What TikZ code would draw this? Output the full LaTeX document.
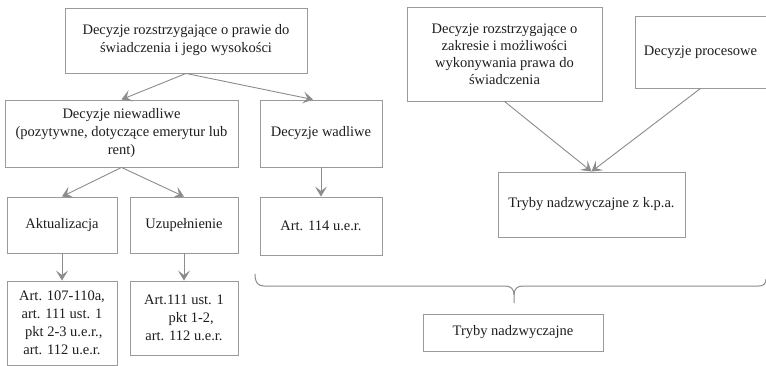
\documentclass[tikz,border=0pt]{standalone}
\usepackage{fontspec}
\setmainfont{Liberation Serif}
\usetikzlibrary{arrows.meta,calc}
\definecolor{boxline}{HTML}{9A9A9A}
\definecolor{arrline}{HTML}{8C8C8C}
\definecolor{txt}{HTML}{1E1E1E}
\tikzset{
  box/.style={draw=boxline,line width=0.9pt,fill=white,text=txt,align=center,
    font=\fontsize{14.5pt}{18pt}\selectfont,inner sep=1pt},
  arr/.style={draw=arrline,line width=0.9pt,
    -{Stealth[length=10pt,width=12pt,inset=4.5pt]}},
  bracel/.style={draw=arrline,line width=1pt}
}
\begin{document}
\begin{tikzpicture}[x=1pt,y=-1pt]
\useasboundingbox[fill=white] (0,0) rectangle (766,366);
\node[box,minimum width=242pt,minimum height=65pt] (top) at (186,40.5)
  {Decyzje rozstrzygające o prawie do\\świadczenia i jego wysokości};
\node[box,minimum width=233pt,minimum height=67pt] (niew) at (121.5,133.5)
  {Decyzje niewadliwe\\(pozytywne, dotyczące emerytur lub\\rent)};
\node[box,minimum width=122pt,minimum height=67pt] (wadl) at (321,133.5)
  {Decyzje wadliwe};
\node[box,minimum width=110pt,minimum height=56pt] (akt) at (62,225)
  {Aktualizacja};
\node[box,minimum width=108pt,minimum height=56pt] (uzu) at (184,225)
  {Uzupełnienie};
\node[box,minimum width=122pt,minimum height=58pt] (a114) at (321,226)
  {Art. 114 u.e.r.};
\node[box,minimum width=110pt,minimum height=84pt] (art1) at (62,323)
  {Art. 107-110a,\\art. 111 ust. 1\\\ pkt 2-3 u.e.r.,\\art. 112 u.e.r.};
\node[box,minimum width=108pt,minimum height=74pt] (art2) at (184,318)
  {Art.111 ust. 1\\\quad pkt 1-2,\\art. 112 u.e.r.};
\node[box,minimum width=195pt,minimum height=94pt,
  font=\fontsize{14.5pt}{17pt}\selectfont] (r1) at (504.5,54)
  {Decyzje rozstrzygające o\\zakresie i możliwości\\wykonywania prawa do\\świadczenia};
\node[box,minimum width=131pt,minimum height=72pt] (proc) at (700.5,52)
  {Decyzje procesowe};
\node[box,minimum width=187pt,minimum height=65pt] (kpa) at (591.5,204.5)
  {Tryby nadzwyczajne z k.p.a.};
\node[box,minimum width=180pt,minimum height=37pt] (tn) at (513,332.5)
  {Tryby nadzwyczajne};

\draw[arr] (top.south) -- (niew.north);
\draw[arr] (top.south) -- ([xshift=-8pt]wadl.north);
\draw[arr] (niew.south) -- (akt.north);
\draw[arr] (niew.south) -- (uzu.north);
\draw[arr] (wadl.south) -- (a114.north);
\draw[arr] (akt.south) -- (art1.north);
\draw[arr] (uzu.south) -- (art2.north);
\draw[arr] (r1.south) -- (kpa.north);
\draw[arr] (proc.south) -- (kpa.north);

\coordinate (bl) at (255,274);
\coordinate (bm) at (514,303);
\coordinate (br) at (766,279);
\draw[bracel] (bl) .. controls (255,283) and (258,286) .. (264,286)
  -- (505,286) .. controls (511,286) and (514,289) .. (514,295) -- (bm);
\draw[bracel] (514,295) .. controls (514,289) and (517,286) .. (523,286)
  -- (759,286) .. controls (763,286) and (766,284) .. (br);
\end{tikzpicture}
\end{document}
